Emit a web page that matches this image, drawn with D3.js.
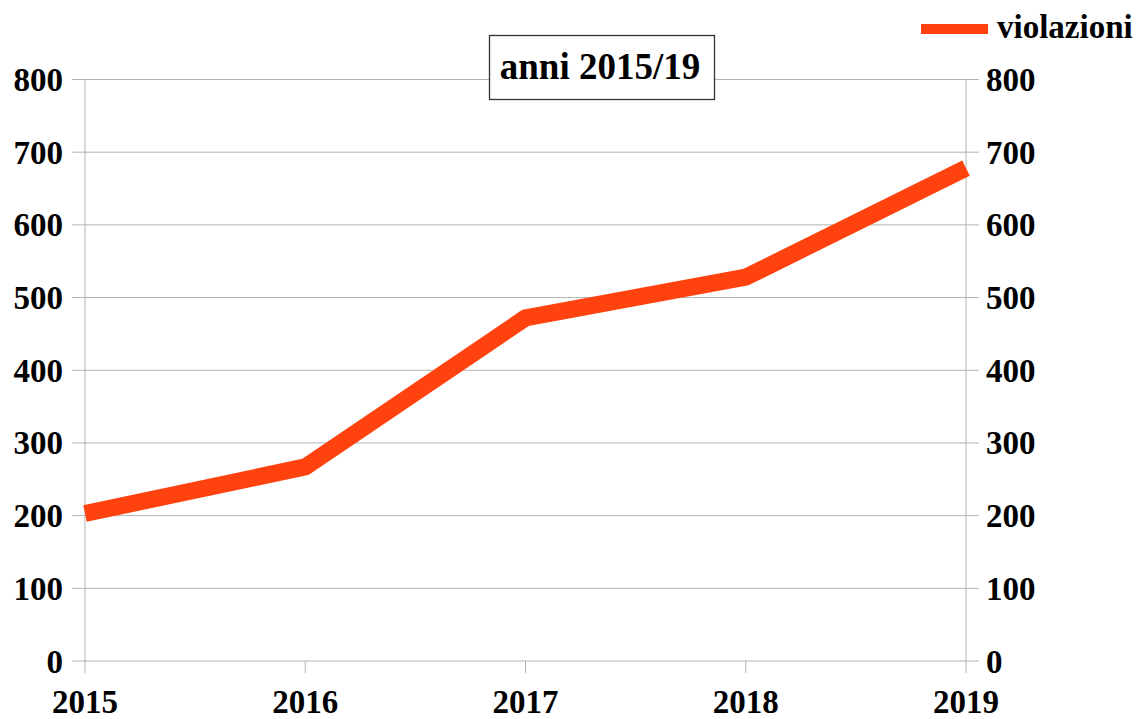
<!DOCTYPE html>
<html>
<head>
<meta charset="utf-8">
<script src="https://cdn.jsdelivr.net/npm/d3@7"></script>
<style>
  body { margin: 0; background: #ffffff; }
  svg { display: block; }
  text { font-family: "Liberation Serif", "Times New Roman", serif; font-weight: bold; fill: #000; }
</style>
</head>
<body>
<div id="chart"></div>
<script>
// data
const years = ['2015', '2016', '2017', '2018', '2019'];
const violazioni = [203, 267, 472, 528, 678];
const yTicks = [0, 100, 200, 300, 400, 500, 600, 700, 800];
const seriesName = 'violazioni';
const titleText = 'anni 2015/19';

const width = 1139;
const height = 719;
const plot = { left: 85, right: 966, top: 79.5, bottom: 661 };

const svg = d3.select('#chart')
  .append('svg')
  .attr('width', width)
  .attr('height', height);

const x = d3.scalePoint()
  .domain(years)
  .range([plot.left, plot.right]);

const y = d3.scaleLinear()
  .domain([0, 800])
  .range([plot.bottom, plot.top]);

const gridColor = '#b3b3b3';

// horizontal grid lines (stick out past both axes)
svg.append('g')
  .selectAll('line')
  .data(yTicks)
  .enter()
  .append('line')
  .attr('x1', plot.left - 13)
  .attr('x2', plot.right + 13)
  .attr('y1', d => y(d))
  .attr('y2', d => y(d))
  .style('stroke', gridColor)
  .style('stroke-width', 1);

// vertical axis lines
svg.append('line')
  .attr('x1', plot.left).attr('x2', plot.left)
  .attr('y1', plot.top).attr('y2', plot.bottom + 12)
  .style('stroke', gridColor);

svg.append('line')
  .attr('x1', plot.right).attr('x2', plot.right)
  .attr('y1', plot.top).attr('y2', plot.bottom + 12)
  .style('stroke', gridColor);

// x tick marks
svg.append('g')
  .selectAll('line')
  .data(years.slice(1, -1))
  .enter()
  .append('line')
  .attr('x1', d => x(d))
  .attr('x2', d => x(d))
  .attr('y1', plot.bottom)
  .attr('y2', plot.bottom + 12)
  .style('stroke', gridColor);

// left labels
svg.append('g')
  .selectAll('text')
  .data(yTicks)
  .enter()
  .append('text')
  .attr('x', 63)
  .attr('y', d => y(d))
  .attr('dy', '0.35em')
  .attr('text-anchor', 'end')
  .style('font-size', '33px')
  .text(d => d);

// right labels
svg.append('g')
  .selectAll('text')
  .data(yTicks)
  .enter()
  .append('text')
  .attr('x', 986)
  .attr('y', d => y(d))
  .attr('dy', '0.35em')
  .attr('text-anchor', 'start')
  .style('font-size', '33px')
  .text(d => d);

// x labels
svg.append('g')
  .selectAll('text')
  .data(years)
  .enter()
  .append('text')
  .attr('x', d => x(d))
  .attr('y', 713)
  .attr('text-anchor', 'middle')
  .style('font-size', '33px')
  .text(d => d);

// the series line
const line = d3.line()
  .x((d, i) => x(years[i]))
  .y(d => y(d));

svg.append('path')
  .datum(violazioni)
  .attr('d', line)
  .style('fill', 'none')
  .style('stroke', '#ff420e')
  .style('stroke-width', 17)
  .style('stroke-linejoin', 'round');

// title box
svg.append('rect')
  .attr('x', 489.5)
  .attr('y', 35.5)
  .attr('width', 225)
  .attr('height', 64)
  .style('fill', '#ffffff')
  .style('stroke', '#333333')
  .style('stroke-width', 1.3);

svg.append('text')
  .attr('x', 600)
  .attr('y', 79)
  .attr('text-anchor', 'middle')
  .style('font-size', '37px')
  .text(titleText);

// legend
svg.append('line')
  .attr('x1', 921)
  .attr('x2', 988)
  .attr('y1', 29)
  .attr('y2', 29)
  .style('stroke', '#ff420e')
  .style('stroke-width', 10);

svg.append('text')
  .attr('x', 997)
  .attr('y', 38)
  .style('font-size', '33px')
  .text(seriesName);
</script>
</body>
</html>
